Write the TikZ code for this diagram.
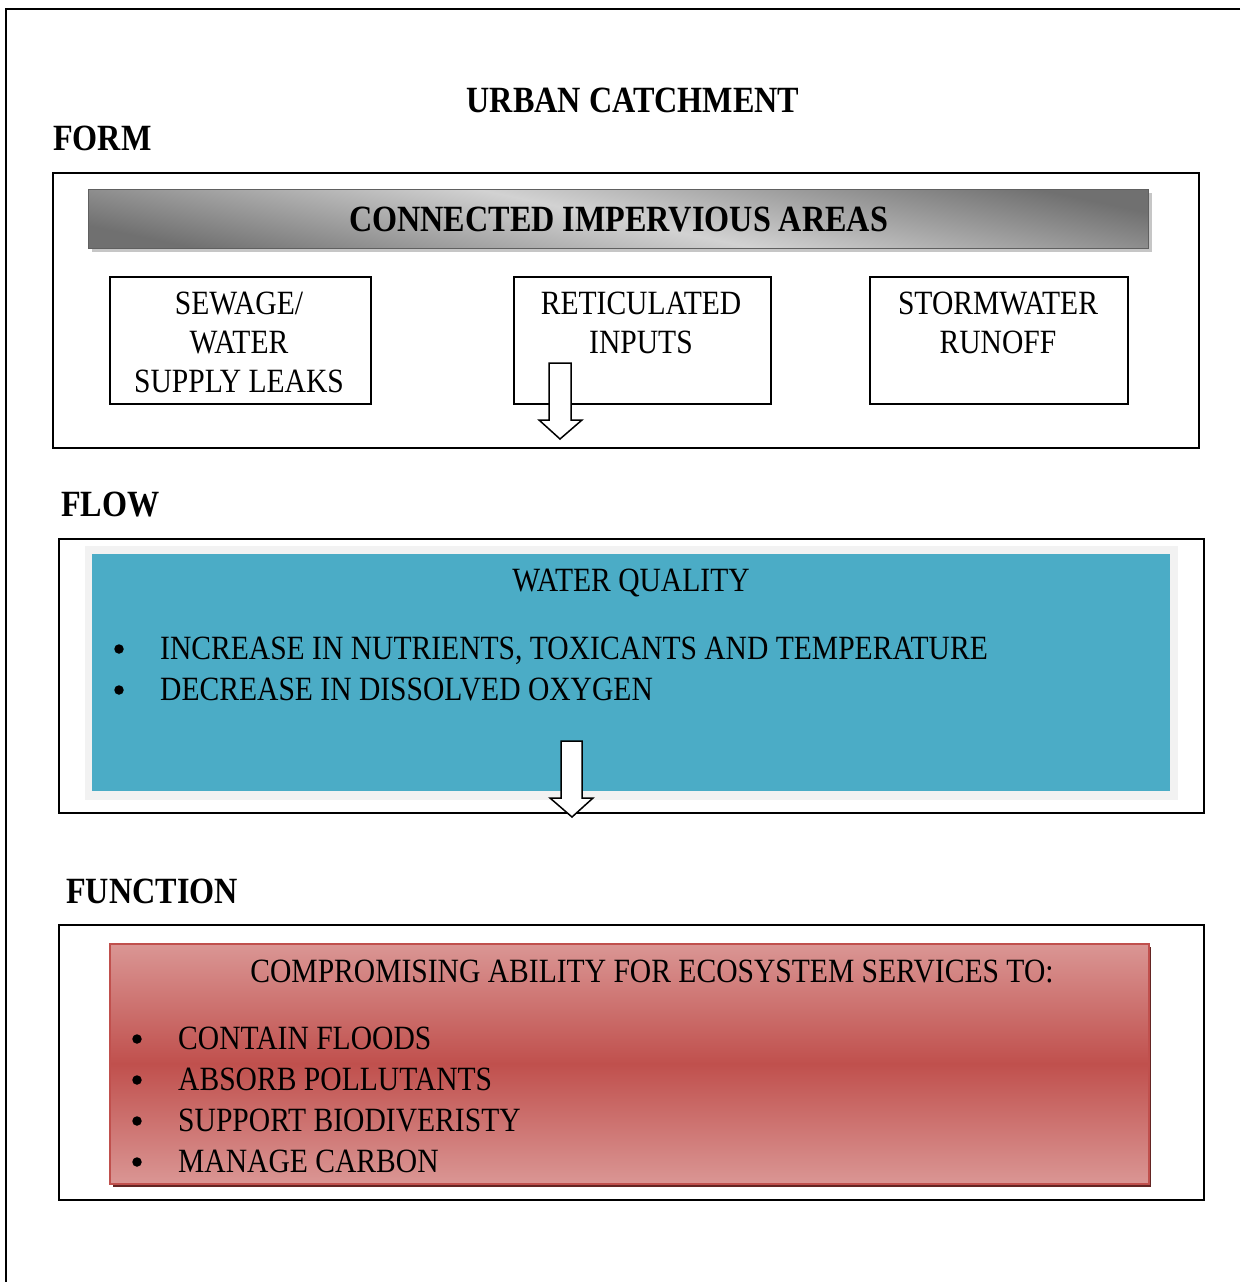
\documentclass[tikz,border=0pt]{standalone}
\usepackage{fontspec}
\setmainfont{Liberation Serif}[FakeStretch=0.87]
\newcommand\hdfont{\fontsize{37}{44}\selectfont\bfseries}
\newcommand\txfont{\fontsize{34}{39}\selectfont}
\newcommand\linesc[1]{\begin{tabular}[t]{@{}c@{}}#1\end{tabular}}
\definecolor{teal1}{HTML}{4BACC6}
\definecolor{paleg}{HTML}{F2F2F2}
\definecolor{redlight}{HTML}{DA9694}
\definecolor{reddark}{HTML}{C0504D}
\definecolor{redshadow}{HTML}{632523}
\definecolor{hdark}{HTML}{707070}
\definecolor{hlight}{HTML}{D2D2D2}
\begin{document}
\begin{tikzpicture}[x=1pt,y=-1pt,
  frame/.style={draw=black,line width=1.5pt,inner sep=0pt,anchor=north west},
  hd/.style={font=\hdfont,inner sep=0pt},
  lbl/.style={font=\txfont,inner sep=0pt},
  boxlbl/.style={font=\txfont,inner sep=0pt,anchor=base},
  bul/.style={circle,fill=black,inner sep=0pt,minimum size=9.5pt},
  blockarrow/.style={draw=black,fill=white,line width=1.5pt,line join=miter}]
\useasboundingbox (0,0) rectangle (1240,1282);
% outer frame
\coordinate (otr) at (1240,9);
\coordinate (otl) at (6,9);
\coordinate (obl) at (6,1282);
\draw[line width=2pt] (otr) -- (otl) -- (obl);

\node[hd,anchor=base] (title) at (633,112) {URBAN CATCHMENT};

% FORM
\node[hd,anchor=base west] (form) at (53,150) {FORM};
\node[frame,minimum width=1146pt,minimum height=275pt] (formbox) at (52,172) {};
\fill[gray!45] (92,193) rectangle (1152,252);
\node[anchor=north west,inner sep=0pt,minimum width=1060pt,minimum height=59pt,
  draw=gray!75!black,line width=1.2pt,
  top color=hdark,bottom color=hdark,middle color=hlight,shading angle=-12,
  font=\hdfont] (cia) at (88,189) {CONNECTED IMPERVIOUS AREAS};

\node[frame,minimum width=261pt,minimum height=127pt] (b1) at (109,276) {};
\node[frame,minimum width=257pt,minimum height=127pt] (b2) at (513,276) {};
\node[frame,minimum width=258pt,minimum height=127pt] (b3) at (869,276) {};
\node[boxlbl] (t1) at (239,314) {\linesc{SEWAGE/\\WATER\\SUPPLY LEAKS}};
\node[boxlbl] (t2) at (641,314) {\linesc{RETICULATED\\INPUTS}};
\node[boxlbl] (t3) at (998,314) {\linesc{STORMWATER\\RUNOFF}};

% arrow 1
\coordinate (a1) at (560,363);
\draw[blockarrow] (a1) ++(-11,0) -- ++(22,0) -- ++(0,57) -- ++(11,0) -- (560,439)
  -- (539,420) -- ++(10,0) -- cycle;

% FLOW
\node[hd,anchor=base west] (flow) at (61,516) {FLOW};
\node[frame,minimum width=1145pt,minimum height=274pt] (flowbox) at (58,538) {};
\fill[paleg] (85,546) rectangle (1178,800);
\node[anchor=north west,inner sep=0pt,minimum width=1078pt,minimum height=237pt,fill=teal1] (wq) at (92,554) {};
\node[lbl,anchor=base] (wqt) at (631,591) {WATER QUALITY};
\node[bul] (fb1) at (119,649) {};
\node[bul] (fb2) at (119,690) {};
\node[lbl,anchor=base west] (fl1) at (160,659) {INCREASE IN NUTRIENTS, TOXICANTS AND TEMPERATURE};
\node[lbl,anchor=base west] (fl2) at (160,700) {DECREASE IN DISSOLVED OXYGEN};

% arrow 2
\coordinate (a2) at (572,741);
\draw[blockarrow] (a2) ++(-11,0) -- ++(21,0) -- ++(0,57) -- ++(11,0) -- (572,817)
  -- (550,798) -- ++(11,0) -- cycle;

% FUNCTION
\node[hd,anchor=base west] (func) at (66,903) {FUNCTION};
\node[frame,minimum width=1145pt,minimum height=275pt] (funcbox) at (58,924) {};
\fill[redshadow] (113,947) rectangle (1151,1187);
\node[anchor=north west,inner sep=0pt,minimum width=1039pt,minimum height=240pt,
  draw=reddark,line width=1.5pt,
  top color=redlight,bottom color=redlight,middle color=reddark] (eco) at (109,943) {};
\node[lbl,anchor=base] (ecot) at (652,982) {COMPROMISING ABILITY FOR ECOSYSTEM SERVICES TO:};
\node[bul] (eb1) at (137,1039) {};
\node[bul] (eb2) at (137,1080) {};
\node[bul] (eb3) at (137,1121) {};
\node[bul] (eb4) at (137,1162) {};
\node[lbl,anchor=base west] (e1) at (178,1049) {CONTAIN FLOODS};
\node[lbl,anchor=base west] (e2) at (178,1090) {ABSORB POLLUTANTS};
\node[lbl,anchor=base west] (e3) at (178,1131) {SUPPORT BIODIVERISTY};
\node[lbl,anchor=base west] (e4) at (178,1172) {MANAGE CARBON};
\end{tikzpicture}
\end{document}
